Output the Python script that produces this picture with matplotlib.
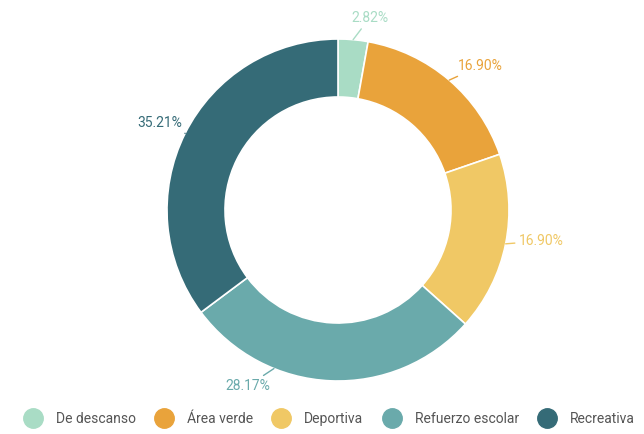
import numpy as np
import matplotlib
matplotlib.use("Agg")
import matplotlib.pyplot as plt
from matplotlib.lines import Line2D

categories = ["De descanso", "Área verde", "Deportiva", "Refuerzo escolar", "Recreativa"]
values = [2.82, 16.90, 16.90, 28.17, 35.21]
labels = ["2.82%", "16.90%", "16.90%", "28.17%", "35.21%"]
colors = ["#a9dcc5", "#e9a33b", "#f0c865", "#6aaaab", "#356b77"]

plt.rcParams["font.family"] = ["Roboto", "DejaVu Sans"]

fig = plt.figure(figsize=(6.44, 4.34), dpi=100)
ax = fig.add_axes([0, 0, 1, 1])

cx, cy, R = 338, 224, 171
wedges, _ = ax.pie(values, colors=colors, startangle=90, counterclock=False,
                   center=(cx, cy), radius=R, frame=True,
                   wedgeprops=dict(width=R - 113, edgecolor="white", linewidth=1.2))
ax.set_xlim(0, 644)
ax.set_ylim(0, 434)
ax.set_aspect("equal")
ax.axis("off")

# text anchor (pixels from bottom-left), alignment, connector angle (None = slice middle)
label_pos = [(351, 416, "left", None), (458, 368, "left", None), (519, 193, "left", None),
             (270, 48, "right", -112.0), (182, 311, "right", None)]

for w, lab, col, (tx, ty, ha, a) in zip(wedges, labels, colors, label_pos):
    ang = np.deg2rad((w.theta1 + w.theta2) / 2 if a is None else a)
    ex, ey = cx + R * np.cos(ang), cy + R * np.sin(ang)
    ax.annotate(lab, xy=(ex, ey), xytext=(tx, ty), ha=ha, va="center",
                fontsize=10, color=col,
                arrowprops=dict(arrowstyle="-", color=col, lw=1.0,
                                shrinkA=1, shrinkB=0))

handles = [Line2D([], [], marker="o", ls="", markersize=14, markerfacecolor=c,
                  markeredgecolor=c) for c in colors]
fig.legend(handles, categories, loc="lower left", ncol=5, frameon=False,
           fontsize=10, bbox_transform=fig.transFigure,
           bbox_to_anchor=(0.022, 0.0), handlelength=1.45, handletextpad=0.94,
           columnspacing=1.3, borderaxespad=0.2, labelcolor="#555555")

fig.savefig("out.png", dpi=100)
